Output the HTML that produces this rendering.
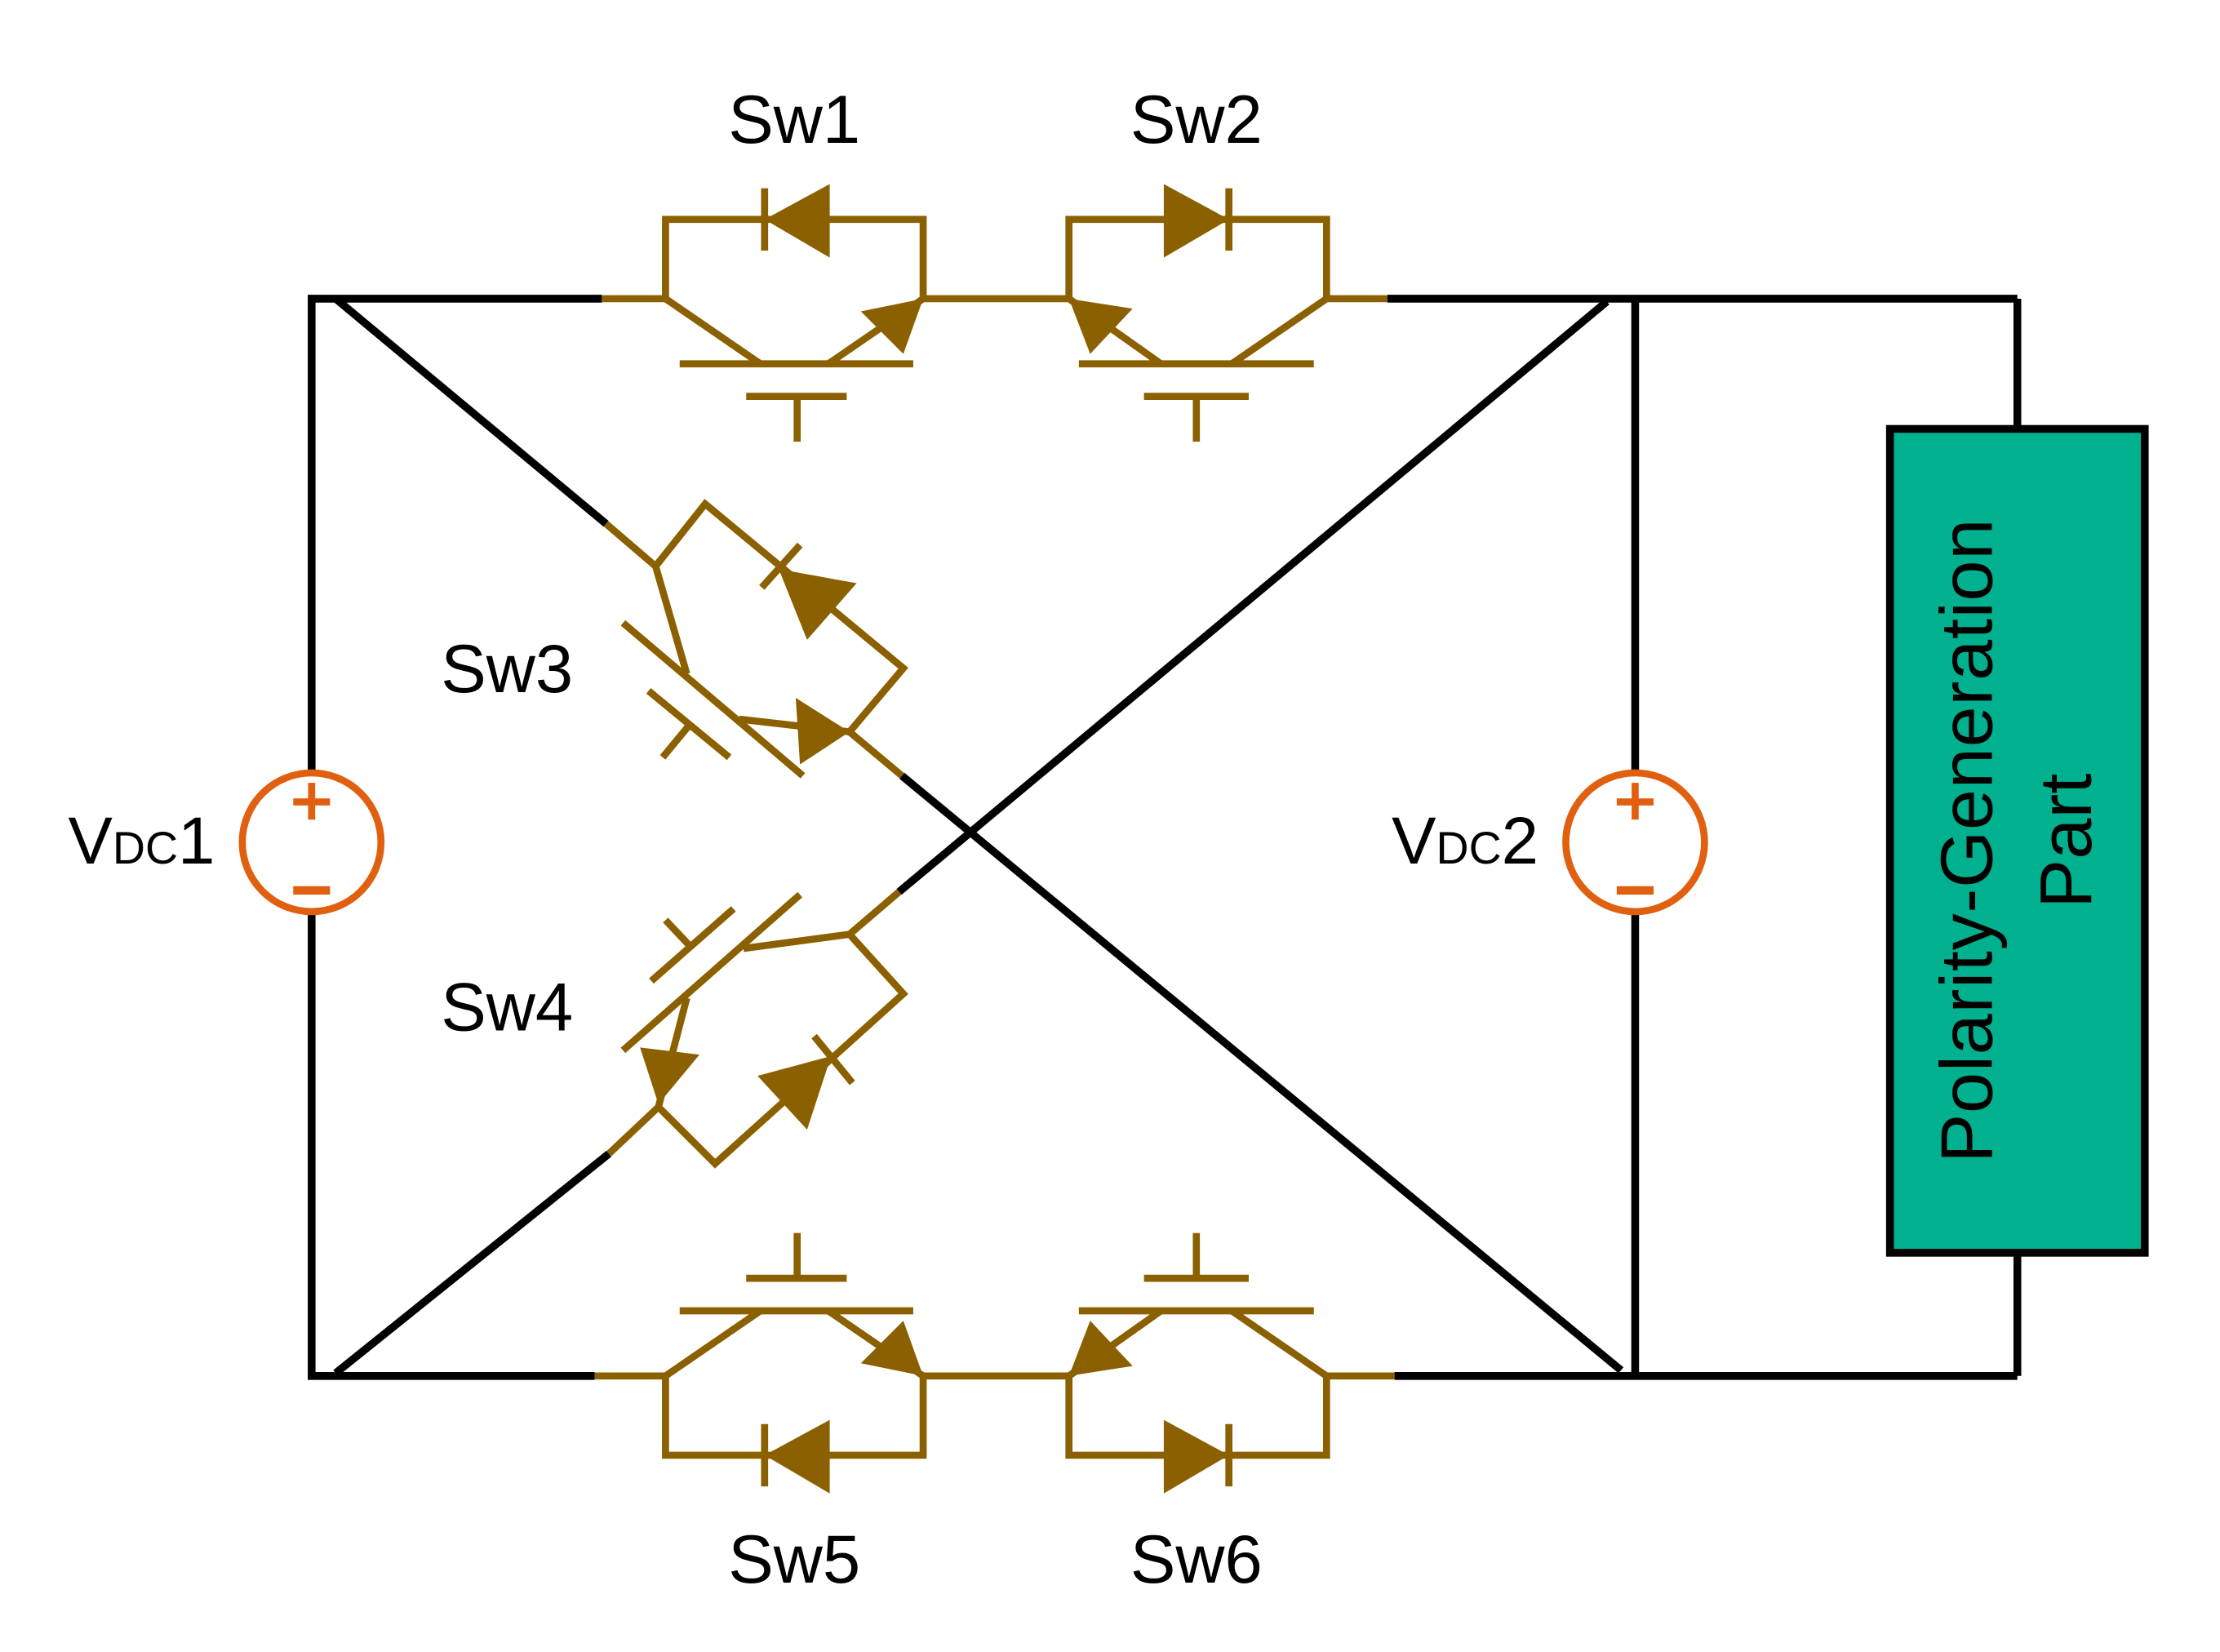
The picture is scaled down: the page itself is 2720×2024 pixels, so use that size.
<!DOCTYPE html>
<html><head><meta charset="utf-8"><style>html,body{margin:0;padding:0;background:#fff}svg{display:block}</style></head>
<body>
<svg width="2720" height="2024" viewBox="0 0 1568 1167" xmlns="http://www.w3.org/2000/svg" font-family="Liberation Sans, sans-serif">
<g fill="none" stroke="#000" stroke-width="5.5">
<polyline points="425,211 220,211 220,546"/>
<polyline points="220,644 220,972 420,972"/>
<line x1="980" y1="211" x2="1425" y2="211"/>
<line x1="985" y1="972" x2="1425" y2="972"/>
<line x1="1155" y1="211" x2="1155" y2="546"/>
<line x1="1155" y1="644" x2="1155" y2="972"/>
<line x1="1425" y1="211" x2="1425" y2="303"/>
<line x1="1425" y1="885" x2="1425" y2="972"/>
<line x1="237" y1="211" x2="428" y2="370"/>
<line x1="637" y1="548" x2="1145" y2="968"/>
<line x1="237" y1="970" x2="430" y2="815"/>
<line x1="635" y1="630" x2="1135" y2="213"/>
</g>
<rect x="1335" y="303" width="180" height="582" fill="#00B08F" stroke="#000" stroke-width="5.5"/>
<g fill="none" stroke="#8B6000" stroke-width="5">
<line x1="425" y1="211" x2="470" y2="211"/>
<line x1="652" y1="211" x2="755" y2="211"/>
<line x1="937" y1="211" x2="980" y2="211"/>
<line x1="420" y1="972" x2="470" y2="972"/>
<line x1="652" y1="972" x2="755" y2="972"/>
<line x1="937" y1="972" x2="985" y2="972"/>
<line x1="428" y1="370" x2="463" y2="400"/>
<line x1="600" y1="517" x2="637" y2="548"/>
<line x1="430" y1="815" x2="465" y2="782"/>
<line x1="600" y1="660" x2="635" y2="630"/>
<polyline points="470,211 470,155 652,155 652,211"/>
<line x1="470" y1="211" x2="537" y2="257"/><line x1="585" y1="257" x2="652" y2="211"/>
<line x1="480" y1="257" x2="645" y2="257"/><line x1="527" y1="280" x2="598" y2="280"/><line x1="563" y1="280" x2="563" y2="312"/>
<line x1="540" y1="133" x2="540" y2="177"/>
<polyline points="755,211 755,155 937,155 937,211"/>
<line x1="755" y1="211" x2="820" y2="257"/><line x1="870" y1="257" x2="937" y2="211"/>
<line x1="762" y1="257" x2="928" y2="257"/><line x1="808" y1="280" x2="882" y2="280"/><line x1="845" y1="280" x2="845" y2="312"/>
<line x1="868" y1="133" x2="868" y2="177"/>
<polyline points="470,972 470,1028 652,1028 652,972"/>
<line x1="470" y1="972" x2="537" y2="926"/><line x1="585" y1="926" x2="652" y2="972"/>
<line x1="480" y1="926" x2="645" y2="926"/><line x1="527" y1="903" x2="598" y2="903"/><line x1="563" y1="903" x2="563" y2="871"/>
<line x1="540" y1="1006" x2="540" y2="1050"/>
<polyline points="755,972 755,1028 937,1028 937,972"/>
<line x1="755" y1="972" x2="820" y2="926"/><line x1="870" y1="926" x2="937" y2="972"/>
<line x1="762" y1="926" x2="928" y2="926"/><line x1="808" y1="903" x2="882" y2="903"/><line x1="845" y1="903" x2="845" y2="871"/>
<line x1="868" y1="1006" x2="868" y2="1050"/>
<polyline points="463,400 498,356 638,472 600,517"/>
<line x1="463" y1="400" x2="485" y2="476"/>
<line x1="440" y1="440" x2="567" y2="548"/>
<line x1="458" y1="488" x2="515" y2="535"/><line x1="468" y1="535" x2="487" y2="512"/>
<line x1="522" y1="508" x2="600" y2="517"/>
<line x1="538" y1="415" x2="565" y2="385"/>
<polyline points="465,782 505,822 638,702 600,660"/>
<line x1="465" y1="782" x2="485" y2="705"/>
<line x1="440" y1="742" x2="565" y2="632"/>
<line x1="460" y1="693" x2="518" y2="642"/><line x1="470" y1="650" x2="487" y2="668"/>
<line x1="525" y1="670" x2="600" y2="660"/>
<line x1="575" y1="732" x2="602" y2="765"/>
</g>
<g fill="#8B6000">
<polygon points="540,155 586,130 586,182"/>
<polygon points="652,211 608,220 638,250"/>
<polygon points="868,155 822,130 822,182"/>
<polygon points="755,211 800,218 770,250"/>
<polygon points="540,1028 586,1003 586,1055"/>
<polygon points="652,972 608,963 638,933"/>
<polygon points="868,1028 822,1003 822,1055"/>
<polygon points="755,972 800,965 770,933"/>
<polygon points="550,402 605,412 570,452"/>
<polygon points="600,517 562,493 565,540"/>
<polygon points="587,746 535,760 570,798"/>
<polygon points="465,780 452,740 494,745"/>
</g>
<g fill="none" stroke="#E06010" stroke-width="5">
<circle cx="220" cy="595" r="49"/><circle cx="1155" cy="595" r="49"/>
</g>
<g fill="#E06010">
<rect x="207" y="564" width="26" height="5"/><rect x="217.5" y="553" width="5" height="26"/>
<rect x="207" y="626" width="26" height="6"/>
<rect x="1142" y="564" width="26" height="5"/><rect x="1152.5" y="553" width="5" height="26"/>
<rect x="1142" y="626" width="26" height="6"/>
</g>
<g font-size="48" fill="#000" text-anchor="middle">
<text x="561" y="101">Sw1</text>
<text x="845" y="101">Sw2</text>
<text x="358" y="489">Sw3</text>
<text x="358" y="728">Sw4</text>
<text x="561" y="1118">Sw5</text>
<text x="845" y="1118">Sw6</text>
</g>
<text x="48" y="610" font-size="47">V<tspan font-size="32">DC</tspan>1</text>
<text x="983" y="610" font-size="47">V<tspan font-size="32">DC</tspan>2</text>
<g font-size="52" fill="#000" text-anchor="middle">
<text transform="translate(1407,594) rotate(-90)" textLength="455">Polarity-Generation</text>
<text transform="translate(1477,594) rotate(-90)">Part</text>
</g>
</svg>
</body></html>
